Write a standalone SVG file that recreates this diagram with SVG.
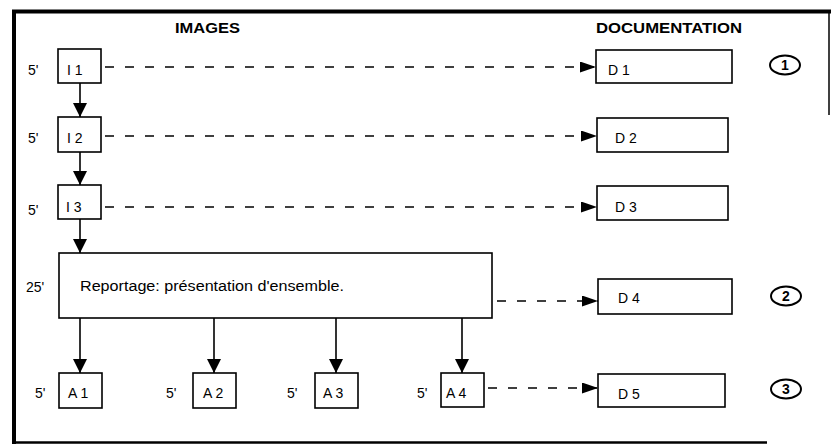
<svg xmlns="http://www.w3.org/2000/svg" width="831" height="445" viewBox="0 0 831 445">
<style>
.box{fill:#fff;stroke:#000;stroke-width:1.6}
.lbl{font-family:"Liberation Sans",Arial,sans-serif;font-size:14px;fill:#000}
.hdr{font-family:"Liberation Sans",Arial,sans-serif;font-size:15px;font-weight:bold;fill:#000}
.num{font-family:"Liberation Sans",Arial,sans-serif;font-size:14px;font-weight:bold;fill:#000;text-anchor:middle}
.circ{fill:none;stroke:#000;stroke-width:2}
.solid{stroke:#000;stroke-width:1.6;fill:none;marker-end:url(#ah)}
.dash{stroke:#000;stroke-width:1.4;fill:none;stroke-dasharray:9 11;marker-end:url(#ahs)}
.frame{stroke:#000;fill:none}
</style>
<defs>
<marker id="ah" viewBox="0 0 14 14" refX="14" refY="7" markerWidth="14" markerHeight="14" markerUnits="userSpaceOnUse" orient="auto"><path d="M0,0 L14,7 L0,14 z" fill="#000"/></marker>
<marker id="ahs" viewBox="0 0 16 11" refX="16" refY="5.5" markerWidth="16" markerHeight="11" markerUnits="userSpaceOnUse" orient="auto"><path d="M0,0 L16,5.5 L0,11 z" fill="#000"/></marker>
</defs>
<rect width="831" height="445" fill="#fff"/>
<g id="frame">
<line class="frame" x1="12" y1="11.5" x2="831" y2="11.5" stroke-width="4"/>
<line class="frame" x1="14" y1="10" x2="14" y2="444" stroke-width="4"/>
<line class="frame" x1="12" y1="442.5" x2="767" y2="442.5" stroke-width="2.5"/>
<line class="frame" x1="829" y1="10" x2="829" y2="115" stroke-width="1.5"/>
</g>
<g id="headers">
<text class="hdr" x="175" y="33" textLength="65" lengthAdjust="spacingAndGlyphs">IMAGES</text>
<text class="hdr" x="596" y="33" textLength="146" lengthAdjust="spacingAndGlyphs">DOCUMENTATION</text>
</g>
<g id="times">
<text class="lbl" x="28" y="75">5'</text>
<text class="lbl" x="28" y="143">5'</text>
<text class="lbl" x="28" y="215">5'</text>
<text class="lbl" x="26" y="292">25'</text>
<text class="lbl" x="35" y="398">5'</text>
<text class="lbl" x="166" y="398">5'</text>
<text class="lbl" x="287" y="398">5'</text>
<text class="lbl" x="417" y="398">5'</text>
</g>
<g id="connectors">
<line class="solid" x1="80" y1="83" x2="80" y2="117"/>
<line class="solid" x1="80" y1="152" x2="80" y2="185"/>
<line class="solid" x1="80" y1="219" x2="80" y2="253"/>
<line class="solid" x1="80" y1="318" x2="80" y2="373"/>
<line class="solid" x1="214" y1="318" x2="214" y2="373"/>
<line class="solid" x1="336" y1="318" x2="336" y2="373"/>
<line class="solid" x1="462" y1="318" x2="462" y2="373"/>
<line class="dash" x1="105" y1="67" x2="596" y2="67"/>
<line class="dash" x1="105" y1="136" x2="597" y2="136"/>
<line class="dash" x1="105" y1="207" x2="597" y2="207"/>
<line class="dash" x1="497" y1="301" x2="598" y2="301"/>
<line class="dash" x1="488" y1="388" x2="598" y2="388"/>
</g>
<g id="I1"><rect class="box" x="58" y="49" width="43" height="34"/><text class="lbl" x="67" y="75">I 1</text></g>
<g id="I2"><rect class="box" x="58" y="117" width="43" height="35"/><text class="lbl" x="67" y="143">I 2</text></g>
<g id="I3"><rect class="box" x="58" y="185" width="43" height="34"/><text class="lbl" x="66" y="212">I 3</text></g>
<g id="reportage"><rect class="box" x="59" y="253" width="433" height="65"/><text class="lbl" x="80" y="291" font-size="15" textLength="264" lengthAdjust="spacingAndGlyphs">Reportage: présentation d'ensemble.</text></g>
<g id="A1"><rect class="box" x="59" y="373" width="43" height="35"/><text class="lbl" x="68" y="398">A 1</text></g>
<g id="A2"><rect class="box" x="193" y="373" width="43" height="35"/><text class="lbl" x="203" y="398">A 2</text></g>
<g id="A3"><rect class="box" x="315" y="373" width="43" height="35"/><text class="lbl" x="323" y="398">A 3</text></g>
<g id="A4"><rect class="box" x="441" y="373" width="43" height="34"/><text class="lbl" x="446" y="398">A 4</text></g>
<g id="D1"><rect class="box" x="596" y="50" width="136" height="33"/><text class="lbl" x="608" y="75">D 1</text></g>
<g id="D2"><rect class="box" x="597" y="118" width="131" height="34"/><text class="lbl" x="615" y="143">D 2</text></g>
<g id="D3"><rect class="box" x="597" y="186" width="131" height="34"/><text class="lbl" x="615" y="212">D 3</text></g>
<g id="D4"><rect class="box" x="598" y="279" width="134" height="35"/><text class="lbl" x="618" y="303">D 4</text></g>
<g id="D5"><rect class="box" x="598" y="374" width="127" height="33"/><text class="lbl" x="618" y="399">D 5</text></g>
<g id="step1"><ellipse class="circ" cx="785" cy="65" rx="15" ry="9.5"/><text class="num" x="785" y="70">1</text></g>
<g id="step2"><ellipse class="circ" cx="786" cy="296" rx="15" ry="9.5"/><text class="num" x="786" y="301">2</text></g>
<g id="step3"><ellipse class="circ" cx="786" cy="389" rx="15" ry="9.5"/><text class="num" x="786" y="394">3</text></g>
</svg>
